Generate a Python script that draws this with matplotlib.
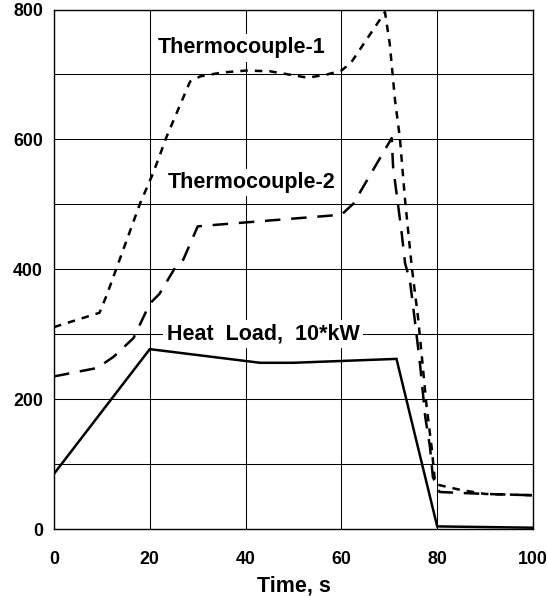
import matplotlib
matplotlib.use('Agg')
import matplotlib.pyplot as plt

plt.rcParams['font.family'] = ['Liberation Sans', 'DejaVu Sans']

# Thermocouple-1 (short dashes)
tc1_time = [0, 9.5, 11, 18, 20.7, 23.5, 28.4, 30.5, 35, 40, 45, 53, 57, 60, 62,
            69.1, 70.1, 71.2, 72.2, 73.3, 74.7, 76, 76.8, 77.8, 78.9, 79.5, 80.2,
            85, 90, 100]
tc1_temp = [311, 333, 360, 502, 548, 604, 689, 697, 703, 706, 705, 695, 700, 706, 718,
            796, 747, 660, 603, 506, 403, 326, 265, 188, 122, 75, 68,
            60, 54, 52]

# Thermocouple-2 (long dashes)
tc2_time = [0, 9, 12.4, 16.6, 20, 22, 25.5, 27, 30, 33, 60, 62.5, 70.5,
            70.8, 71.8, 72.6, 73.3, 74.3, 75.4, 76.4, 77.5, 78.5, 79.1, 80.5,
            90, 100]
tc2_temp = [235, 248, 265, 294, 347, 362, 405, 415, 466, 468, 484, 501, 602,
            557, 501, 455, 409, 383, 317, 255, 173, 126, 80, 57,
            54, 52]

# Heat load, 10*kW (solid)
load_time = [0, 20, 43, 50, 71.5, 80, 100]
load_val = [85, 277, 256, 256, 262, 4, 2]

x_ticks = [0, 20, 40, 60, 80, 100]
y_ticks = [0, 200, 400, 600, 800]
y_minor = [100, 300, 500, 700]

fig = plt.figure(figsize=(5.47, 5.96), dpi=100)
ax = fig.add_axes([0.0987, 0.1124, 0.8757, 0.8716])

ax.plot(load_time, load_val, color='black', lw=1.8, zorder=4, solid_joinstyle='miter')
ax.plot(tc1_time, tc1_temp, color='black', lw=1.8, dashes=(3.0, 2.8), zorder=4)
ax.plot(tc2_time, tc2_temp, color='black', lw=1.8, dashes=(6.2, 4.3), zorder=4)

ax.set_xlim(0, 100)
ax.set_ylim(0, 800)
ax.set_xticks(x_ticks)
ax.set_yticks(y_ticks)
ax.set_yticks(y_minor, minor=True)
ax.grid(True, which='both', color='black', lw=0.75, zorder=1)
ax.set_axisbelow(True)
ax.tick_params(which='both', length=0)
ax.tick_params(axis='y', pad=8)
ax.tick_params(axis='x', pad=16)
for lab in ax.get_xticklabels() + ax.get_yticklabels():
    lab.set_fontsize(12.8)
    lab.set_fontweight('bold')
for s in ax.spines.values():
    s.set_linewidth(1.0)

ax.set_xlabel('Time, s', fontsize=15.5, fontweight='bold', labelpad=5)

box = dict(facecolor='white', edgecolor='none', boxstyle='square,pad=0.15')
ax.text(21.7, 741, 'Thermocouple-1', fontsize=15.5, fontweight='bold',
        ha='left', va='center', bbox=box, zorder=3)
ax.text(23.8, 534, 'Thermocouple-2', fontsize=15.5, fontweight='bold',
        ha='left', va='center', bbox=box, zorder=3)
ax.text(23.5, 300, 'Heat  Load,  10*kW', fontsize=15.5, fontweight='bold',
        ha='left', va='center', bbox=box, zorder=3)

fig.savefig('out.png', dpi=100)
